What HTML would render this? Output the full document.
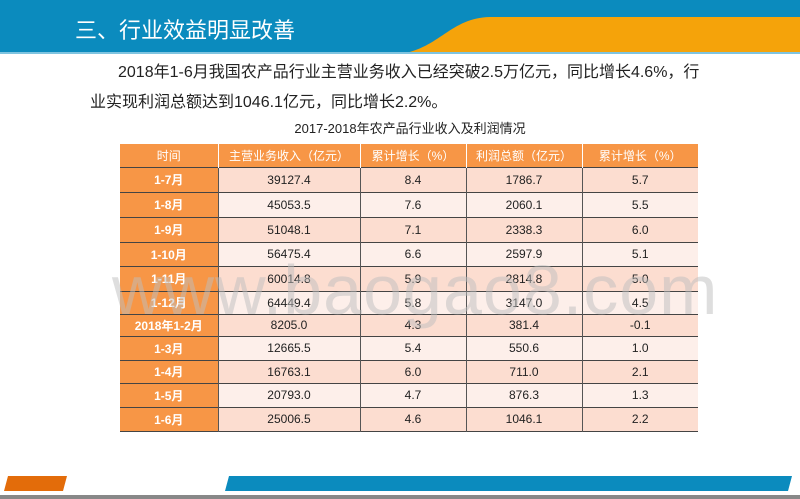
<!DOCTYPE html>
<html><head><meta charset="utf-8">
<style>
body{margin:0;width:800px;height:499px;overflow:hidden;background:#fff;font-family:"Liberation Sans","Noto Sans CJK SC",sans-serif;position:relative}
.abs{position:absolute}
table{border-collapse:collapse;position:absolute;left:120px;top:144px;width:578px;font-size:12px;table-layout:fixed}
td{text-align:center;padding:0;border-left:1px solid #555;color:#222}
tr{border-bottom:1px solid #444}
td.t{background:#F79646;color:#fff;font-weight:bold;border-left:none}
tr.h td{background:#F79646;color:#fff;font-weight:normal;border-left:1px solid #fff}
tr.a td{background:#FCDDD0}
tr.b td{background:#FDEFEA}
tr.a td.t,tr.b td.t{background:#F79646}
</style></head><body>
<svg class="abs" style="left:0;top:0" width="800" height="60">
<rect x="0" y="0" width="800" height="54" fill="#0B8BBE"/>
<path d="M400,54 C440,48 450,18 490,17 L800,17 L800,54 Z" fill="#F5A30A"/>
<rect x="0" y="52" width="800" height="2" fill="#7fc4e0"/>
</svg>
<div class="abs" style="left:75px;top:13px;color:#fff;font-size:22px">三、行业效益明显改善</div>
<div class="abs" style="left:90px;top:58px;width:700px;font-size:16px;line-height:30px;color:#222;white-space:nowrap"><span style="padding-left:28px">2018年1-6月我国农产品行业主营业务收入已经突破2.5万亿元，同比增长4.6%，行</span><br>业实现利润总额达到1046.1亿元，同比增长2.2%。</div>
<div class="abs" style="left:0;width:820px;top:118px;text-align:center;font-size:13px;color:#222">2017-2018年农产品行业收入及利润情况</div>
<table>
<colgroup><col style="width:98px"><col style="width:142px"><col style="width:106px"><col style="width:116px"><col style="width:116px"></colgroup>
<tr class="h" style="height:23px"><td style="border-left:none">时间</td><td>主营业务收入（亿元）</td><td>累计增长（%）</td><td>利润总额（亿元）</td><td>累计增长（%）</td></tr>
<tr class="a" style="height:25px"><td class="t">1-7月</td><td>39127.4</td><td>8.4</td><td>1786.7</td><td>5.7</td></tr>
<tr class="b" style="height:25px"><td class="t">1-8月</td><td>45053.5</td><td>7.6</td><td>2060.1</td><td>5.5</td></tr>
<tr class="a" style="height:25px"><td class="t">1-9月</td><td>51048.1</td><td>7.1</td><td>2338.3</td><td>6.0</td></tr>
<tr class="b" style="height:24px"><td class="t">1-10月</td><td>56475.4</td><td>6.6</td><td>2597.9</td><td>5.1</td></tr>
<tr class="a" style="height:25px"><td class="t">1-11月</td><td>60014.8</td><td>5.9</td><td>2814.8</td><td>5.0</td></tr>
<tr class="b" style="height:23px"><td class="t">1-12月</td><td>64449.4</td><td>5.8</td><td>3147.0</td><td>4.5</td></tr>
<tr class="a" style="height:22px"><td class="t">2018年1-2月</td><td>8205.0</td><td>4.3</td><td>381.4</td><td>-0.1</td></tr>
<tr class="b" style="height:24px"><td class="t">1-3月</td><td>12665.5</td><td>5.4</td><td>550.6</td><td>1.0</td></tr>
<tr class="a" style="height:23px"><td class="t">1-4月</td><td>16763.1</td><td>6.0</td><td>711.0</td><td>2.1</td></tr>
<tr class="b" style="height:24px"><td class="t">1-5月</td><td>20793.0</td><td>4.7</td><td>876.3</td><td>1.3</td></tr>
<tr class="a" style="height:24px"><td class="t">1-6月</td><td>25006.5</td><td>4.6</td><td>1046.1</td><td>2.2</td></tr>
</table>
<div class="abs" style="left:112px;top:250px;font-size:70px;color:rgba(190,190,190,0.5);letter-spacing:1px">www.baogao8.com</div>
<svg class="abs" style="left:0;top:470px" width="800" height="29">
<polygon points="8,6 67,6 63,21 4,21" fill="#E36C0A"/>
<polygon points="229,6 792,6 788,21 225,21" fill="#0B8BBE"/>
<rect x="0" y="25" width="800" height="4" fill="#888"/>
</svg>
</body></html>
